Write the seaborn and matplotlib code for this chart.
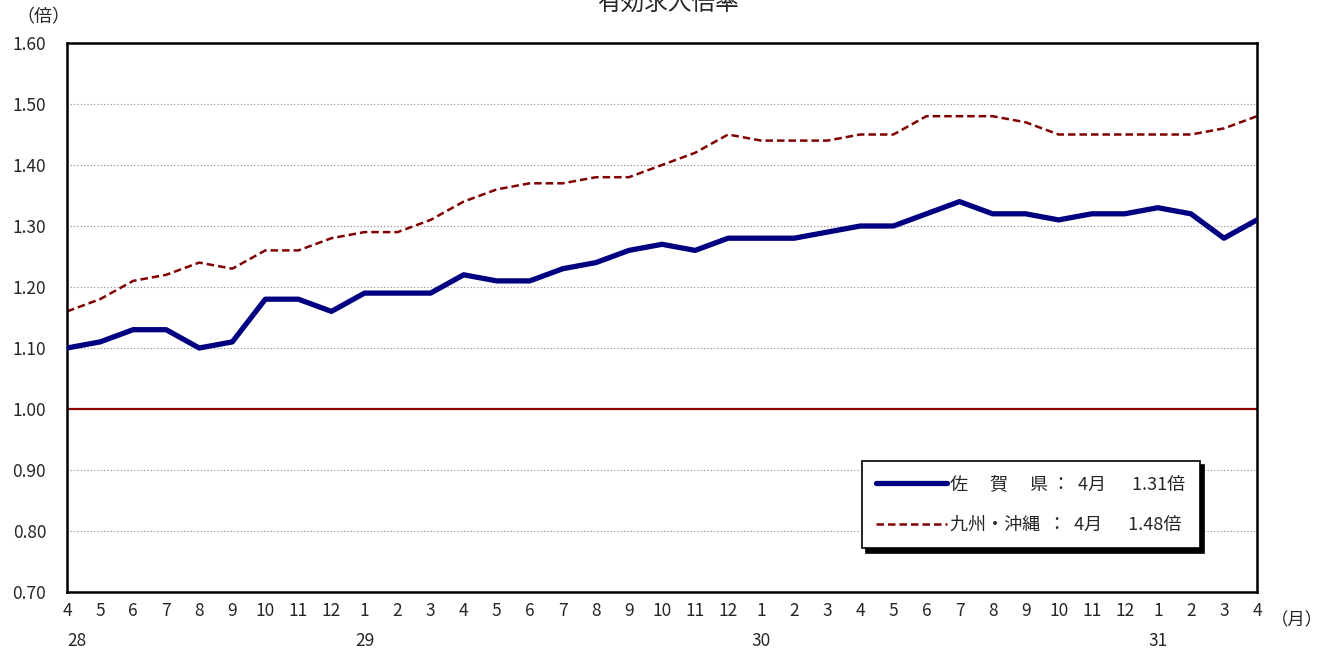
import seaborn as sns
from matplotlib import pyplot as plt
import pandas as pd

# 有効求人倍率 (H28.4 - H31.4)
months = [4, 5, 6, 7, 8, 9, 10, 11, 12, 1, 2, 3,
          4, 5, 6, 7, 8, 9, 10, 11, 12, 1, 2, 3,
          4, 5, 6, 7, 8, 9, 10, 11, 12, 1, 2, 3, 4]
years = {0: '28', 9: '29', 21: '30', 33: '31'}

saga = [1.10, 1.11, 1.13, 1.13, 1.10, 1.11, 1.18, 1.18, 1.16, 1.19, 1.19, 1.19,
        1.22, 1.21, 1.21, 1.23, 1.24, 1.26, 1.27, 1.26, 1.28, 1.28, 1.28, 1.29,
        1.30, 1.30, 1.32, 1.34, 1.32, 1.32, 1.31, 1.32, 1.32, 1.33, 1.32, 1.28, 1.31]
kyushu = [1.16, 1.18, 1.21, 1.22, 1.24, 1.23, 1.26, 1.26, 1.28, 1.29, 1.29, 1.31,
          1.34, 1.36, 1.37, 1.37, 1.38, 1.38, 1.40, 1.42, 1.45, 1.44, 1.44, 1.44,
          1.45, 1.45, 1.48, 1.48, 1.48, 1.47, 1.45, 1.45, 1.45, 1.45, 1.45, 1.46, 1.48]

saga_label = '佐　 賀　 県 ：  4月　  1.31倍'
kyushu_label = '九州・沖縄  ：  4月　  1.48倍'

sns.set_style('white')
plt.rcParams['font.family'] = ['Noto Sans CJK JP', 'DejaVu Sans']

df = pd.DataFrame({'idx': range(len(months)), 'saga': saga, 'kyushu': kyushu})

fig = plt.figure(figsize=(13.25, 6.52), dpi=100)
ax = fig.add_axes([67 / 1325, 1 - 592 / 652, 1190 / 1325, 549 / 652])

# gridlines
for v in [0.8, 0.9, 1.1, 1.2, 1.3, 1.4, 1.5]:
    ax.axhline(v, color='#888888', lw=0.8, ls=(0, (1, 2)), zorder=0)
ax.axhline(1.0, color='#8b0000', lw=1.6, zorder=1)

sns.lineplot(data=df, x='idx', y='saga', ax=ax, color='#000080', lw=3.8,
             label=saga_label, zorder=3)
sns.lineplot(data=df, x='idx', y='kyushu', ax=ax, color='#800000', lw=1.8,
             ls=(0, (3, 1.6)), label=kyushu_label, zorder=2)

ax.set_xlim(0, len(months) - 1)
ax.set_ylim(0.70, 1.60)
ax.set_yticks([0.7 + 0.1 * i for i in range(10)])
ax.set_yticklabels([f'{0.7 + 0.1 * i:.2f}' for i in range(10)], fontsize=12.5)
ax.set_xticks(range(len(months)))
ax.set_xticklabels([str(m) for m in months], fontsize=12.5)
ax.tick_params(axis='x', direction='in', length=5, width=0.8, color='#888888', pad=7)
ax.tick_params(axis='y', length=0, pad=15)
ax.set_xlabel('')
ax.set_ylabel('')

for s in ax.spines.values():
    s.set_color('black')
    s.set_linewidth(1.8)

# year labels under months
for i, y in years.items():
    ax.text(i + (0.3 if i == 0 else 0), -0.09, y, transform=ax.get_xaxis_transform(),
            ha='center', va='center', fontsize=12.5)

fig.text(1297 / 1325, 1 - 620 / 652, '（月）', ha='center', va='center', fontsize=12.5)
fig.text(43 / 1325, 1 - 17 / 652, '（倍）', ha='center', va='center', fontsize=13)
fig.text(668 / 1325, 1 - 4 / 652, '有効求人倍率', ha='center', va='center', fontsize=17)

leg = ax.legend(loc='upper left', bbox_to_anchor=(0.668, 0.2386), fontsize=13,
                frameon=True, fancybox=False, handlelength=3.9, labelspacing=1.25,
                borderpad=0.8, handletextpad=0.2, borderaxespad=0,
                shadow={'color': 'black', 'alpha': 1, 'ox': 3, 'oy': -3})
leg.get_frame().set_edgecolor('black')
leg.get_frame().set_linewidth(1.2)
leg.get_frame().set_alpha(1)

plt.savefig('out.png', dpi=100)
